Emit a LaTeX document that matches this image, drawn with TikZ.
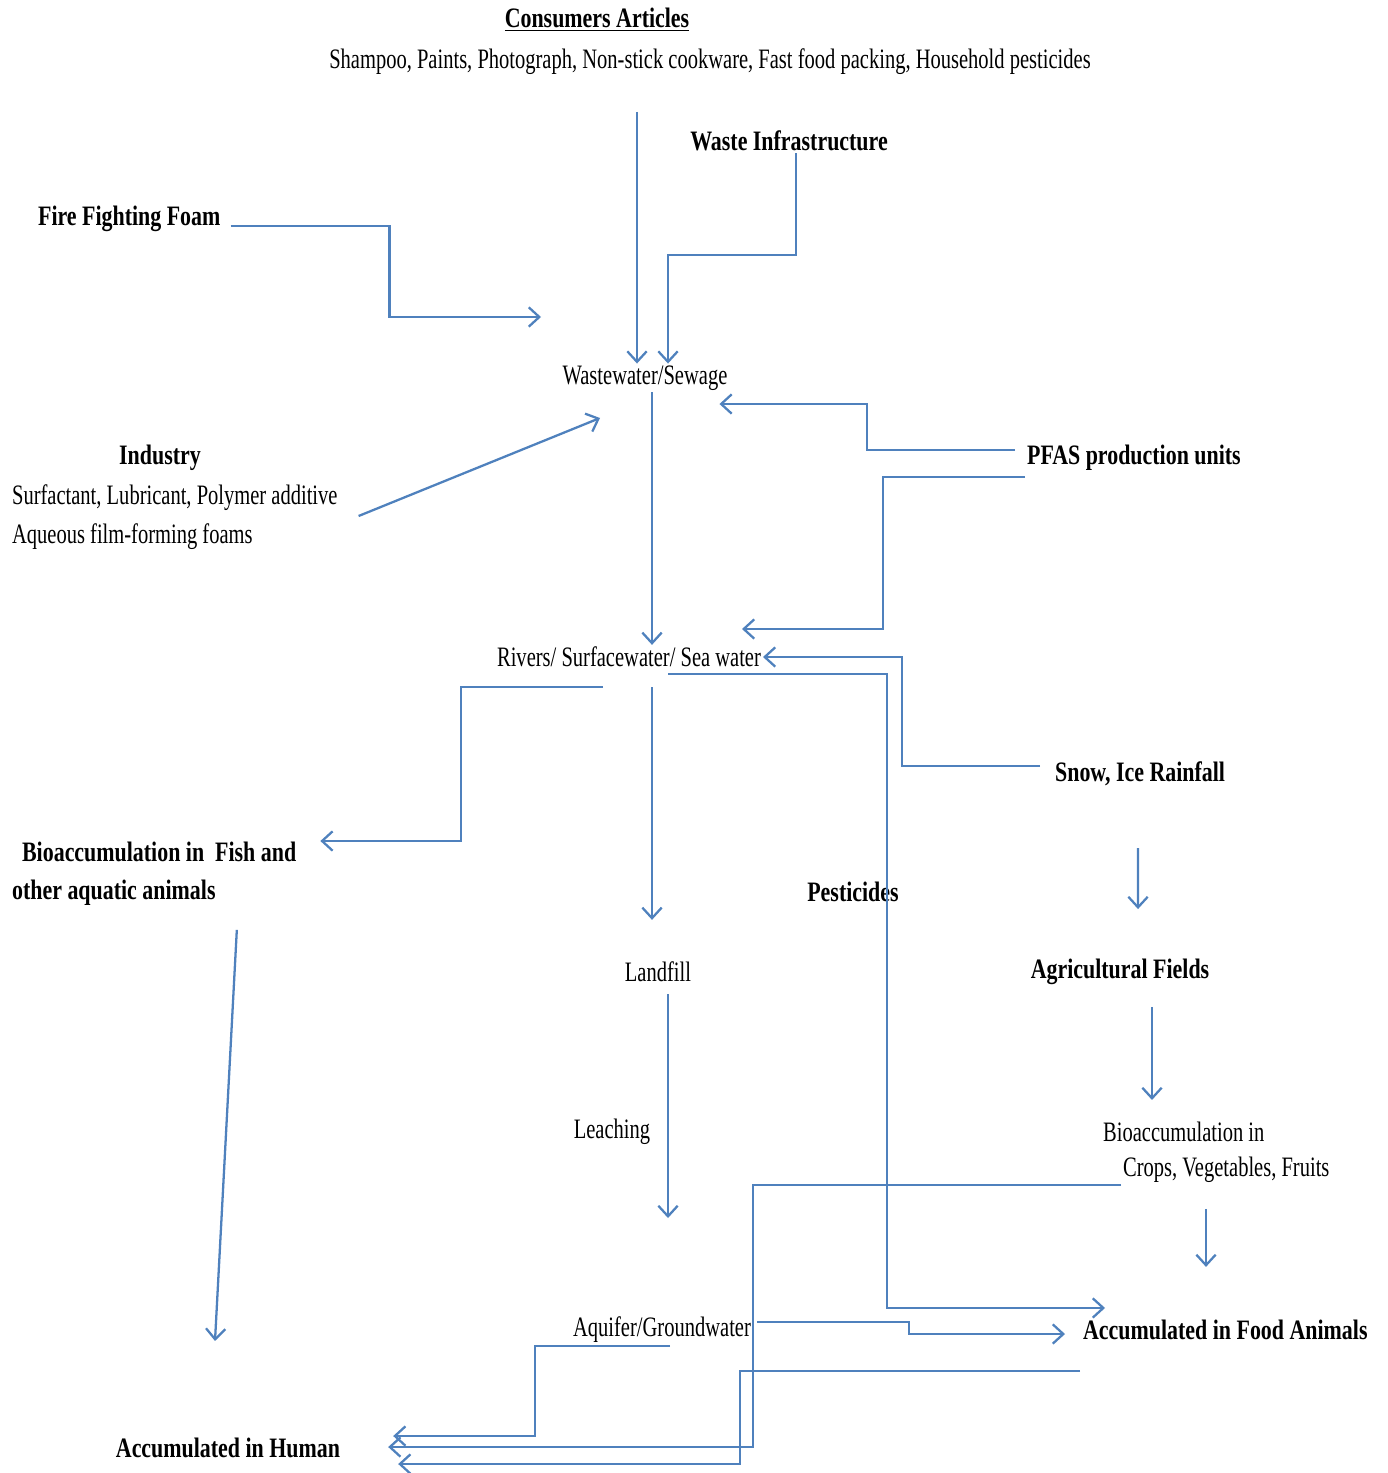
\documentclass[tikz,border=0pt]{standalone}
\usepackage{fontspec}
\setmainfont[FakeStretch=0.78]{Liberation Serif}
\newfontfamily\regfont[FakeStretch=0.73]{Liberation Serif}
\usetikzlibrary{positioning,arrows.meta,calc}
\definecolor{flowblue}{RGB}{79,129,189}
\tikzset{
  txt/.style={inner sep=1pt,font=\regfont\fontsize{16}{19}\selectfont},
  head/.style={inner sep=1pt,font=\fontsize{16}{19}\selectfont\bfseries},
  flow/.style={->,draw=flowblue,line width=1.3pt},
}
\begin{document}
\begin{tikzpicture}[>={Straight Barb[length=6pt,width=11pt]},x=0.02cm,y=-0.02cm]
  \useasboundingbox (0,0) rectangle (1388,1473);
  \node[head] (consumers) at (597,20) {\underline{Consumers Articles}};
  \node[txt] (consitems) at (710,62) {Shampoo, Paints, Photograph, Non-stick cookware, Fast food packing, Household pesticides};
  \node[head] (waste) at (789,141) {Waste Infrastructure};
  \node[head,anchor=west] (foam) at (36,219) {Fire Fighting Foam};
  \node[txt] (sewage) at (645,378) {Wastewater/Sewage};
  \node[head] (industry) at (160,458) {Industry};
  \node[txt,anchor=west] (surf) at (10,498) {Surfactant, Lubricant, Polymer additive};
  \node[txt,anchor=west] (aqueous) at (10,537) {Aqueous film-forming foams};
  \node[head,anchor=west] (pfas) at (1025,458) {PFAS production units};
  \node[txt] (rivers) at (629,657) {Rivers/ Surfacewater/ Sea water};
  \node[head,anchor=west] (snow) at (1053,774) {Snow, Ice Rainfall};
  \node[head,anchor=west] (fish) at (20,852) {Bioaccumulation in\ \ Fish and};
  \node[head,anchor=west] (fishb) at (10,893) {other aquatic animals};
  \node[head] (pest) at (853,892) {Pesticides};
  \node[txt] (landfill) at (658,972) {Landfill};
  \node[head] (agri) at (1120,972) {Agricultural Fields};
  \node[txt] (leach) at (612,1132) {Leaching};
  \node[txt,anchor=west] (crops1) at (1101,1132) {Bioaccumulation in};
  \node[txt,anchor=west] (crops2) at (1121,1170) {Crops, Vegetables, Fruits};
  \node[txt] (aquifer) at (662,1330) {Aquifer/Groundwater};
  \node[head,anchor=west] (food) at (1081,1330) {Accumulated in Food Animals};
  \node[head] (human) at (228,1448) {Accumulated in Human};
  \coordinate (caout) at (637,112);
  \coordinate (ffin) at (541,317);
  \coordinate (indin) at (600,418);

  \draw[flow] (caout) -- (caout |- sewage.north);
  \draw[flow] ($(waste.south)+(7,0)$) -- ++(0,102) -| ($(sewage.north)+(23,0)$);
  \draw[flow] ($(foam.east)+(8,7)$) -- ++(159,0) |- (ffin);
  \draw[flow] ($(surf.east)+(19,18)$) -- (indin);
  \draw[flow] ($(pfas.west)+(-10,-8)$) -- ++(-148,0) |- ($(sewage.east)+(-10,26)$);
  \draw[flow] ($(pfas.west)+(0,19)$) -- ++(-142,0) |- ($(rivers.east)+(-21,-28)$);
  \draw[flow] ($(sewage.south)+(7,0)$) -- ($(rivers.north)+(23,0)$);
  \draw[flow] ($(snow.west)+(-13,-8)$) -- ++(-138,0) |- (rivers.east);
  \draw[flow] ($(rivers.south)+(-26,18)$) -- ++(-142,0) |- ($(fish.east)+(22,-11)$);
  \draw[flow] ($(rivers.south)+(23,18)$) -- ($(landfill.north)+(-6,-40)$);
  \draw[flow] ($(rivers.south)+(39,5)$) -- ++(219,0) |- ($(food.north west)+(24,-10)$);
  \draw[flow] ($(snow.south)+(-2,60)$) -- ($(agri.north)+(18,-48)$);
  \draw[flow] ($(agri.south)+(32,20)$) -- ++(0,93);
  \draw[flow] ($(landfill.south)+(10,10)$) -- ($(aquifer.north)+(6,-97)$);
  \draw[flow] ($(crops2.south west)+(85,24)$) -- ++(0,58);
  \draw[flow] (crops2.south west) -- ++(-368,0) |- ($(human.east)+(46,-1)$);
  \draw[flow] ($(fishb.south)+(123,22)$) -- ($(human.north)+(-13,-95)$);
  \draw[flow] ($(aquifer.east)+(4,-8)$) -- ++(152,0) |- ($(food.west)+(-16,4)$);
  \draw[flow] ($(aquifer.south)+(8,1)$) -- ++(-135,0) |- ($(human.east)+(51,-12)$);
  \draw[flow] ($(food.south west)+(-1,29)$) -- ++(-340,0) |- ($(human.east)+(56,16)$);
\end{tikzpicture}
\end{document}
